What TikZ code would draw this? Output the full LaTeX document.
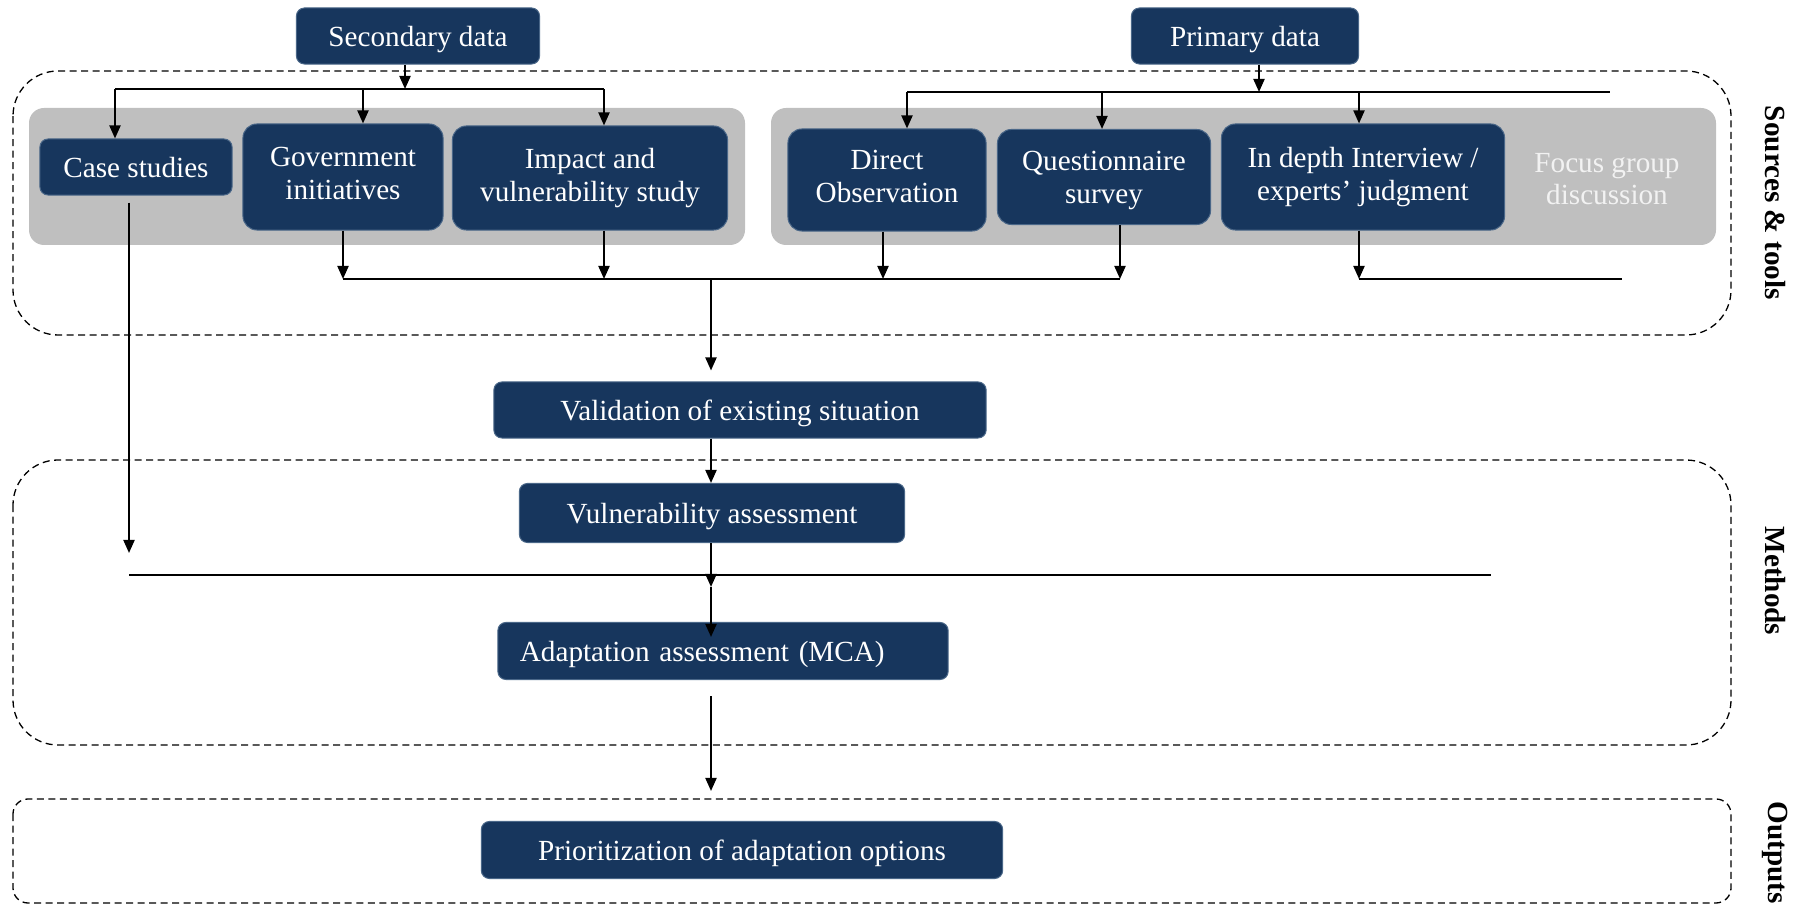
\documentclass[tikz,border=0pt]{standalone}
\usepackage{fontspec}
\setmainfont{Liberation Serif}
\usetikzlibrary{arrows.meta}

\definecolor{navy}{HTML}{17365D}
\definecolor{navyedge}{HTML}{4A6788}
\definecolor{panelgray}{HTML}{BFBFBF}
\definecolor{focusgray}{HTML}{F2F2F2}

\begin{document}
\begin{tikzpicture}[x=0.01cm, y=-0.01cm,
bluenode/.style={rectangle, rounded corners=0.08cm, fill=navy, draw=navyedge, line width=0.01cm,
  text=white, align=center, inner sep=0pt, text depth=0pt, font=\fontsize{8.3}{9.3}\selectfont},
tallnode/.style={bluenode, rounded corners=0.14cm, text depth=},
panel/.style={fill=panelgray, rounded corners=0.15cm},
region/.style={draw=black, line width=0.013cm, dash pattern=on 0.07cm off 0.045cm, rounded corners=0.45cm},
sidelabel/.style={rotate=-90, font=\fontsize{8.3}{9.3}\selectfont\bfseries},
joinline/.style={draw=black, line width=0.02cm},
arrowline/.style={joinline, -{Triangle[length=0.13cm, width=0.11cm]}},
]
\useasboundingbox (0,0) rectangle (1800,904);

%Regions
\draw[region] (13,71) rectangle (1731,335);
\draw[region] (13,460) rectangle (1731,745);
\draw[region, rounded corners=0.15cm] (13,799) rectangle (1731,903);
\fill[panel] (29,108) rectangle (745,245);
\fill[panel] (771,108) rectangle (1716,245);

%Nodes
\node[bluenode, minimum width=2.43cm, minimum height=0.56cm] at (418,36) (secdata) {Secondary data};
\node[bluenode, minimum width=2.27cm, minimum height=0.56cm] at (1245,36) (primdata) {Primary data};
\node[bluenode, minimum width=1.92cm, minimum height=0.56cm] at (136,167) (casestud) {Case studies};
\node[tallnode, text depth=0.07cm, minimum width=2.00cm, minimum height=1.06cm] at (343,177) (govinit) {Government\\initiatives};
\node[tallnode, minimum width=2.75cm, minimum height=1.04cm] at (590,178) (impact) {Impact and\\vulnerability study};
\node[tallnode, text depth=0.07cm, minimum width=1.98cm, minimum height=1.02cm] at (887,180) (directobs) {Direct\\Observation};
\node[tallnode, text depth=0pt, minimum width=2.13cm, minimum height=0.95cm] at (1104,177) (questsurv) {Questionnaire\\survey};
\node[tallnode, minimum width=2.83cm, minimum height=1.06cm] at (1363,177) (interview) {In depth Interview /\\experts’ judgment};
\node[align=center, text=focusgray, font=\fontsize{8.3}{9.3}\selectfont] at (1607,179) (focus) {Focus group\\discussion};
\node[bluenode, minimum width=4.92cm, minimum height=0.56cm] at (740,410) (validation) {Validation of existing situation};
\node[bluenode, minimum width=3.85cm, minimum height=0.59cm] at (712,513) (vulnass) {Vulnerability assessment};
\node[bluenode, text width=4.06cm, align=left, inner xsep=0.22cm, minimum height=0.57cm] at (723,651) (adapt) {Adaptation assessment (MCA)};
\node[bluenode, minimum width=5.21cm, minimum height=0.57cm] at (742,850) (prior) {Prioritization of adaptation options};
\node[sidelabel] at (1775,203) (srclabel) {Sources \& tools};
\node[sidelabel] at (1775,581) (metlabel) {Methods};
\node[sidelabel, anchor=west, inner sep=0pt] at (1775,801) (outlabel) {Outputs};

%Join points
\coordinate (sj) at (405,89);
\coordinate (sl) at (115,89);
\coordinate (sm) at (363,89);
\coordinate (sr) at (604,89);
\coordinate (pj) at (1259,92);
\coordinate (pl) at (907,92);
\coordinate (pm) at (1102,92);
\coordinate (pr) at (1359,92);
\coordinate (pe) at (1610,92);
\coordinate (bl) at (343,279);
\coordinate (bm) at (604,279);
\coordinate (bd) at (883,279);
\coordinate (bq) at (1120,279);
\coordinate (bv) at (711,279);
\coordinate (bi) at (1359,279);
\coordinate (be) at (1622,279);
\coordinate (cs) at (129,553);
\coordinate (ml) at (129,575);
\coordinate (mr) at (1491,575);
\coordinate (mv) at (711,587);
\coordinate (ao) at (711,791);

%Lines
\draw[arrowline] (secdata.south -| sj) -- (sj);
\draw[joinline] (sl) -- (sr);
\draw[arrowline] (sl) -- (sl |- casestud.north);
\draw[arrowline] (sm) -- (sm |- govinit.north);
\draw[arrowline] (sr) -- (sr |- impact.north);
\draw[arrowline] (primdata.south -| pj) -- (pj);
\draw[joinline] (pl) -- (pe);
\draw[arrowline] (pl) -- (pl |- directobs.north);
\draw[arrowline] (pm) -- (pm |- questsurv.north);
\draw[arrowline] (pr) -- (pr |- interview.north);
\draw[arrowline] (govinit.south -| bl) -- (bl);
\draw[arrowline] (impact.south -| bm) -- (bm);
\draw[arrowline] (directobs.south -| bd) -- (bd);
\draw[arrowline] (questsurv.south -| bq) -- (bq);
\draw[joinline] (bl) -- (bq);
\draw[arrowline] (interview.south -| bi) -- (bi);
\draw[joinline] (bi) -- (be);
\draw[arrowline, shorten >=0.11cm] (bv) -- (bv |- validation.north);
\draw[arrowline, shorten <=0.07cm] (casestud.south -| cs) -- (cs);
\draw[arrowline] (validation.south -| bv) -- (bv |- vulnass.north);
\draw[joinline] (ml) -- (mr);
\draw[arrowline] (vulnass.south -| mv) -- (mv);
\draw[arrowline, shorten >=-0.15cm] (mv) -- (mv |- adapt.north);
\draw[arrowline, shorten <=0.16cm] (adapt.south -| ao) -- (ao);
\end{tikzpicture}
\end{document}
